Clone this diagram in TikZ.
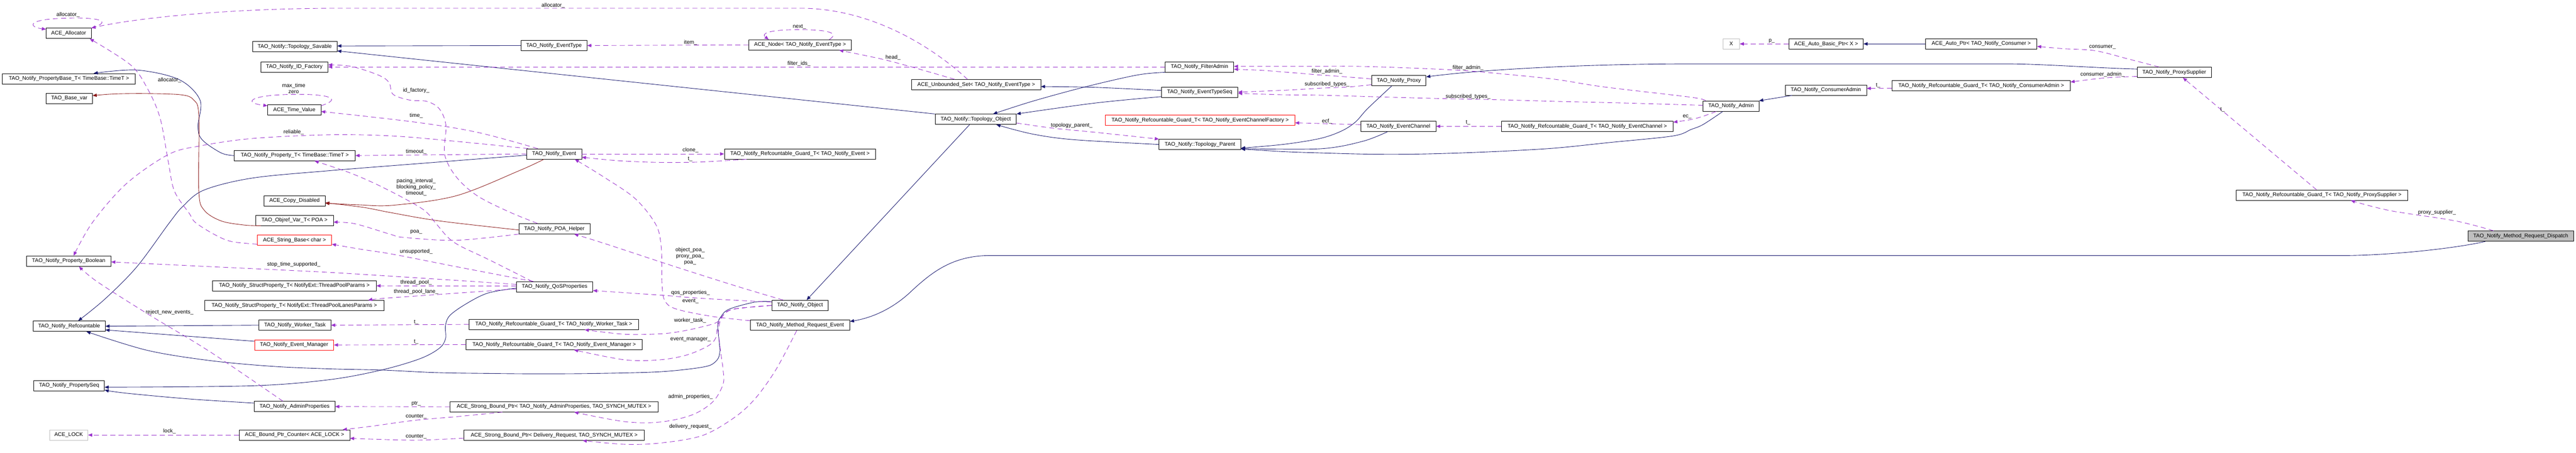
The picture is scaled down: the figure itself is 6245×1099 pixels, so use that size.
\documentclass[tikz,border=0pt]{standalone}
\usepackage{fontspec}
\setmainfont{Liberation Sans}
\usetikzlibrary{arrows.meta}
\definecolor{cinh}{RGB}{25,25,112}
\definecolor{cprv}{RGB}{139,26,26}
\definecolor{cuse}{RGB}{154,50,205}
\definecolor{cgrey}{RGB}{191,191,191}
\begin{document}
\begin{tikzpicture}[x=1pt,y=-1pt,
  every node/.style={font=\fontsize{13}{15}\selectfont},
  cls/.style={draw=black, line width=1pt, minimum height=25pt, inner sep=0pt, align=center},
  trunc/.style={cls, draw=red},
  ext/.style={cls, draw=cgrey},
  cur/.style={cls, fill=cgrey},
  lbl/.style={inner sep=0pt, align=center},
  pub/.style={draw=cinh, line width=1.1pt, -{Triangle[length=10pt,width=8pt]}},
  prv/.style={draw=cprv, line width=1.1pt, -{Triangle[length=10pt,width=8pt]}},
  usedge/.style={draw=cuse, line width=1.1pt, dash pattern=on 12pt off 8pt, -{Triangle[length=10pt,width=8pt]}},
  sm/.style={smooth, tension=0.55}
]
\fill[white] (0,0) rectangle (6245,1099);
\useasboundingbox (0,0) rectangle (6245,1099);

% ---------------- nodes ----------------
\node[cls,minimum width=109pt] (alloc) at (166.5,81) {ACE\_Allocator};
\node[cls,minimum width=205pt] (savable) at (714.5,113.5) {TAO\_Notify::Topology\_Savable};
\node[cls,minimum width=163pt] (idfac) at (713.5,162.5) {TAO\_Notify\_ID\_Factory};
\node[cls,minimum width=322pt] (propbase) at (167,191) {TAO\_Notify\_PropertyBase\_T< TimeBase::TimeT >};
\node[cls,minimum width=112pt] (basevar) at (168,238.5) {TAO\_Base\_var};
\node[cls,minimum width=129pt] (timeval) at (713.5,266.5) {ACE\_Time\_Value};
\node[cls,minimum width=293pt] (propT) at (714.5,377.5) {TAO\_Notify\_Property\_T< TimeBase::TimeT >};
\node[cls,minimum width=148pt] (copydis) at (714,487) {ACE\_Copy\_Disabled};
\node[cls,minimum width=188pt] (objref) at (714,534.5) {TAO\_Objref\_Var\_T< POA >};
\node[trunc,minimum width=180pt] (strbase) at (714,582.5) {ACE\_String\_Base< char >};
\node[cls,minimum width=205pt] (propbool) at (166.5,633.5) {TAO\_Notify\_Property\_Boolean};
\node[cls,minimum width=397pt] (sp1) at (713.5,693.5) {TAO\_Notify\_StructProperty\_T< NotifyExt::ThreadPoolParams >};
\node[cls,minimum width=435pt] (sp2) at (713.5,741.5) {TAO\_Notify\_StructProperty\_T< NotifyExt::ThreadPoolLanesParams >};
\node[cls,minimum width=175pt] (refc) at (167.5,791.5) {TAO\_Notify\_Refcountable};
\node[cls,minimum width=174pt] (worker) at (715,789) {TAO\_Notify\_Worker\_Task};
\node[trunc,minimum width=192pt] (evmgr) at (713,837) {TAO\_Notify\_Event\_Manager};
\node[cls,minimum width=171pt] (propseq) at (167.5,935.5) {TAO\_Notify\_PropertySeq};
\node[cls,minimum width=196pt] (adminprops) at (714,986.5) {TAO\_Notify\_AdminProperties};
\node[ext,minimum width=93pt] (acelock) at (166.5,1055.5) {ACE\_LOCK};
\node[cls,minimum width=268pt] (bpc) at (714,1055.5) {ACE\_Bound\_Ptr\_Counter< ACE\_LOCK >};
\node[cls,minimum width=160pt] (evtype) at (1343,110.5) {TAO\_Notify\_EventType};
\node[cls,minimum width=133pt] (event) at (1343.5,373.5) {TAO\_Notify\_Event};
\node[cls,minimum width=172pt] (poahelper) at (1344,555) {TAO\_Notify\_POA\_Helper};
\node[cls,minimum width=185pt] (qos) at (1344.5,696) {TAO\_Notify\_QoSProperties};
\node[cls,minimum width=411pt] (gwt) at (1342.5,787) {TAO\_Notify\_Refcountable\_Guard\_T< TAO\_Notify\_Worker\_Task >};
\node[cls,minimum width=427pt] (gem) at (1343.5,836) {TAO\_Notify\_Refcountable\_Guard\_T< TAO\_Notify\_Event\_Manager >};
\node[cls,minimum width=504pt] (sbpa) at (1343,987) {ACE\_Strong\_Bound\_Ptr< TAO\_Notify\_AdminProperties, TAO\_SYNCH\_MUTEX >};
\node[cls,minimum width=437pt] (sbpd) at (1343.5,1056) {ACE\_Strong\_Bound\_Ptr< Delivery\_Request, TAO\_SYNCH\_MUTEX >};
\node[cls,minimum width=249pt] (acenode) at (1939.5,109) {ACE\_Node< TAO\_Notify\_EventType >};
\node[cls,minimum width=367pt] (gev) at (1939.5,373.5) {TAO\_Notify\_Refcountable\_Guard\_T< TAO\_Notify\_Event >};
\node[cls,minimum width=137pt] (object) at (1939.5,741) {TAO\_Notify\_Object};
\node[cls,minimum width=241pt] (mre) at (1939.5,789) {TAO\_Notify\_Method\_Request\_Event};
\node[cls,minimum width=313pt] (uset) at (2366.5,205.5) {ACE\_Unbounded\_Set< TAO\_Notify\_EventType >};
\node[cls,minimum width=197pt] (topobj) at (2365.5,289.5) {TAO\_Notify::Topology\_Object};
\node[cls,minimum width=166pt] (filteradmin) at (2908,162.5) {TAO\_Notify\_FilterAdmin};
\node[cls,minimum width=185pt] (etseq) at (2908.5,223.5) {TAO\_Notify\_EventTypeSeq};
\node[trunc,minimum width=459pt] (gecf) at (2909.5,291.5) {TAO\_Notify\_Refcountable\_Guard\_T< TAO\_Notify\_EventChannelFactory >};
\node[cls,minimum width=198pt] (topparent) at (2909,350.5) {TAO\_Notify::Topology\_Parent};
\node[cls,minimum width=132pt] (proxy) at (3391,195.5) {TAO\_Notify\_Proxy};
\node[cls,minimum width=182pt] (ec) at (3390,306.5) {TAO\_Notify\_EventChannel};
\node[cls,minimum width=416pt] (gec) at (3848,306.5) {TAO\_Notify\_Refcountable\_Guard\_T< TAO\_Notify\_EventChannel >};
\node[ext,minimum width=40pt] (X) at (4197,106.5) {X};
\node[cls,minimum width=180pt] (autobasic) at (4427,106.5) {ACE\_Auto\_Basic\_Ptr< X >};
\node[cls,minimum width=270pt] (autoptr) at (4803,106.5) {ACE\_Auto\_Ptr< TAO\_Notify\_Consumer >};
\node[cls,minimum width=197pt] (consadmin) at (4426.5,218.5) {TAO\_Notify\_ConsumerAdmin};
\node[cls,minimum width=432pt] (gca) at (4803,208) {TAO\_Notify\_Refcountable\_Guard\_T< TAO\_Notify\_ConsumerAdmin >};
\node[cls,minimum width=135pt] (admin) at (4196.5,257.5) {TAO\_Notify\_Admin};
\node[cls,minimum width=180pt] (proxysup) at (5271,175.5) {TAO\_Notify\_ProxySupplier};
\node[cls,minimum width=416pt] (gps) at (5629,473.5) {TAO\_Notify\_Refcountable\_Guard\_T< TAO\_Notify\_ProxySupplier >};
\node[cur,minimum width=256pt] (dispatch) at (6111,573) {TAO\_Notify\_Method\_Request\_Dispatch};

% ---------------- inheritance (public) ----------------
\draw[pub] plot[sm] coordinates {(propT.west) (536,371) (490,339) (480,307) (485,243) (434,193) (332,170) ([xshift=60pt]propbase.north)};
\draw[pub] plot[sm] coordinates {([yshift=-3pt]event.west) (1040,395) (800,414) (612,432) (495,461) (444,500) (411,540) (332,647) (255,725) ([xshift=22pt]refc.north)};
\draw[pub] plot[sm] coordinates {([yshift=-3pt]qos.west) (1183,711) (1132,736) (1091,765) (1080,790) (1080,822) (1065,845) (1019,870) (928,897) (800,921) (612,936) ([yshift=-4pt]propseq.east)};
\draw[pub] plot[sm] coordinates {([yshift=8.5pt]adminprops.west) (459,968) (306,954) ([yshift=-11pt]propseq.east)};
\draw[pub] (worker.west) -- (refc.east);
\draw[pub] ([yshift=9pt]evmgr.west) -- ([yshift=-9pt]refc.east);
\draw[pub] plot[sm] coordinates {([yshift=9pt]object.west) (1830,733) (1768,750) (1748,768) (1740,790) (1745,854) (1733,879) (1702,891) (1600,902) (1450,906) (1310,907) (1180,906) (1055,904) (928,898) (800,895) (663,889) (510,875) (357,850) ([xshift=42pt]refc.south)};
\draw[pub] ([xshift=-15pt]topobj.south) -- ([xshift=16pt]object.north);
\draw[pub] (topobj.north west) -- ([yshift=-10pt]savable.east);
\draw[pub] (evtype.west) -- ([yshift=2pt]savable.east);
\draw[pub] plot[sm] coordinates {([yshift=4pt]etseq.west) (2655,212) ([yshift=-4.5pt]uset.east)};
\draw[pub] plot[sm] coordinates {([yshift=-11pt]etseq.west) (2655,250) (topobj.north east)};
\draw[pub] plot[sm] coordinates {(filteradmin.south west) (2757,182) (2630,211) (2502,246) ([xshift=42pt]topobj.north)};
\draw[pub] plot[sm] coordinates {(topparent.west) (2604,339) (2502,325) ([xshift=50pt]topobj.south)};
\draw[pub] plot[sm] coordinates {([xshift=-17pt]proxy.south) (3315,264) (3286,296) (3252,318) (3200,336) (3114,350) ([yshift=-9pt]topparent.east)};
\draw[pub] plot[sm] coordinates {([xshift=-26pt]ec.south) (3303,343) (3200,361) ([yshift=-10pt]topparent.east)};
\draw[pub] plot[sm] coordinates {([xshift=-20pt]admin.south) (4129,302) (4100,314) (4055,330) (3900,346) (3774,359) (3660,366) (3544,371) (3430,374) (3315,374) (3200,371) (3114,368) ([yshift=-11pt]topparent.east)};
\draw[pub] ([yshift=8pt]proxysup.west) .. controls (5080,165) and (4950,155) .. (4864,155) -- (4100,155) .. controls (3850,155) and (3600,168) .. ([yshift=9pt]proxy.east);
\draw[pub] ([xshift=-82pt]consadmin.south) -- (admin.north east);
\draw[pub] (autoptr.west) -- (autobasic.east);
\draw[pub] ([xshift=-86pt]dispatch.south) .. controls (5940,605) and (5780,620) .. (5682,620) -- (2400,620) .. controls (2310,620) and (2260,660) .. (2212,704) .. controls (2170,745) and (2120,770) .. ([yshift=9pt]mre.east);

% ---------------- inheritance (private) ----------------
\draw[prv] plot[sm] coordinates {([xshift=13pt]objref.south west) (592,546) (536,536) (495,510) (482,464) (482,280) (469,242) (439,230) (352,227) (276,228) ([yshift=6.5pt]basevar.east)};
\draw[prv] plot[sm] coordinates {([xshift=-25pt]event.south) (1259,414) (1106,475) (953,498) (870,497) ([yshift=-6pt]copydis.east)};
\draw[prv] plot[sm] coordinates {([yshift=-3pt]poahelper.west) (1065,536) (948,516) (880,503) ([yshift=-5pt]copydis.east)};

% ---------------- usage ----------------
\draw[usedge] ([xshift=-21pt]uset.north) .. controls (2300,150) and (2150,25) .. (1950,20) -- (800,20) .. controls (500,22) and (300,50) .. (alloc.north east);
\draw[usedge] (alloc.north east) .. controls (280,50) and (230,42) .. (165,44) .. controls (60,46) and (70,66) .. ([yshift=-3pt]alloc.north west);
\draw[usedge] plot[sm] coordinates {([yshift=-10pt]strbase.west) (561,586) (520,569) (474,540) (459,518) (423,464) (408,393) (388,286) (357,214) (316,157) ([xshift=-4pt]alloc.south east)};
\draw[usedge] plot[sm] coordinates {(poahelper.south west) (1106,583) (979,576) (948,569) (861,543) ([yshift=-4.5pt]objref.east)};
\draw[usedge] ([yshift=-3pt]timeval.north east) .. controls (830,240) and (800,228) .. (714,229) .. controls (600,230) and (590,250) .. ([yshift=-3pt]timeval.north west);
\draw[usedge] plot[sm] coordinates {([xshift=-40pt]event.north) (1157,321) (1004,296) ([yshift=-4pt]timeval.east)};
\draw[usedge] plot[sm] coordinates {([xshift=-63pt]event.north) (1106,343) (953,330) (800,327) (612,336) (485,354) (408,375) (306,446) (224,540) ([xshift=12pt]propbool.north)};
\draw[usedge] (event.west) -- (propT.east);
\draw[usedge] (event.east) -- (gev.west);
\draw[usedge] plot[sm] coordinates {([xshift=-130pt]gev.south) (1700,393) (1600,394) (1500,390) ([yshift=-8pt]event.east)};
\draw[usedge] plot[sm] coordinates {([yshift=11pt]mre.west) (1728,768) (1640,750) (1612,730) (1605,690) (1603,600) (1590,545) (1540,482) (1463,429) ([xshift=50pt]event.south)};
\draw[usedge] plot[sm] coordinates {([xshift=-41pt]poahelper.north) (1234,514) (1157,475) (1106,429) (1078,375) (1081,304) (1065,264) (1035,246) (994,243) (953,229) (943,200) (917,182) (851,161) ([yshift=5pt]idfac.east)};
\draw[usedge] (filteradmin.west) -- (idfac.east);
\draw[usedge] plot[sm] coordinates {([xshift=-54pt]qos.north) (1183,629) (1116,597) (1086,576) (1055,540) (1024,507) (933,457) (850,420) ([xshift=48pt]propT.south)};
\draw[usedge] plot[sm] coordinates {([xshift=-51pt]qos.north) (1106,647) (953,617) (870,604) ([yshift=-10pt]strbase.east)};
\draw[usedge] plot[sm] coordinates {([yshift=6pt]qos.west) (1055,677) (800,661) (510,647) ([yshift=-2pt]propbool.east)};
\draw[usedge] ([yshift=2pt]qos.west) -- (sp1.east);
\draw[usedge] plot[sm] coordinates {([yshift=-5pt]qos.west) (1055,715) (928,724) ([xshift=179pt]sp2.north)};
\draw[usedge] plot[sm] coordinates {([xshift=-28pt]adminprops.north) (510,854) (357,761) (235,683) ([xshift=25pt]propbool.south)};
\draw[usedge] (gwt.west) -- (worker.east);
\draw[usedge] (gem.west) -- (evmgr.east);
\draw[usedge] (sbpa.west) -- (adminprops.east);
\draw[usedge] plot[sm] coordinates {([xshift=-125pt]sbpa.south) (1106,1011) (1004,1020) (902,1034) ([xshift=117pt]bpc.north)};
\draw[usedge] plot[sm] coordinates {([yshift=-7pt]sbpd.west) (1004,1068) ([yshift=-8pt]bpc.east)};
\draw[usedge] (bpc.west) -- (acelock.east);
\draw[usedge] plot[sm] coordinates {([xshift=-41pt]object.north) (1804,700) (1702,668) (1615,640) (1463,590) ([xshift=48pt]poahelper.south)};
\draw[usedge] plot[sm] coordinates {([yshift=8pt]object.west) (1702,724) (1600,716) ([yshift=-9pt]qos.east)};
\draw[usedge] plot[sm] coordinates {(object.west) (1779,750) (1753,765) (1738,782) (1702,793) (1651,804) (1600,810) (1514,811) ([xshift=75pt]gwt.south)};
\draw[usedge] plot[sm] coordinates {(object.west) (1779,750) (1753,765) (1740,790) (1735,820) (1717,839) (1666,861) (1600,873) (1514,873) ([xshift=48pt]gem.south)};
\draw[usedge] plot[sm] coordinates {(object.west) (1779,750) (1753,765) (1742,800) (1748,860) (1753,897) (1753,932) (1728,975) (1677,1007) (1600,1024) (1514,1023) ([xshift=49pt]sbpa.south)};
\draw[usedge] plot[sm] coordinates {([xshift=-8pt]mre.south) (1881,897) (1830,968) (1779,1014) (1702,1057) (1600,1075) (1514,1078) ([xshift=69pt]sbpd.south)};
\draw[usedge] (acenode.west) -- (evtype.east);
\draw[usedge] ([xshift=71pt]acenode.north) .. controls (2035,80) and (2010,72) .. (1937,72) .. controls (1860,72) and (1845,82) .. ([xshift=-76pt]acenode.north);
\draw[usedge] plot[sm] coordinates {([xshift=-52pt]uset.north) (2212,163) (2136,143) ([xshift=95pt]acenode.south)};
\draw[usedge] plot[sm] coordinates {([yshift=-9pt]topobj.east) (2553,311) (2655,321) (topparent.north west)};
\draw[usedge] plot[sm] coordinates {([yshift=4pt]proxy.west) (3257,186) (3200,182) (3165,179) (3063,171) ([yshift=-5.5pt]filteradmin.east)};
\draw[usedge] plot[sm] coordinates {([xshift=-62pt]admin.north) (4100,236) (3889,211) (3774,193) (3660,181) (3544,171) (3420,165) (3292,161) (3200,161) (3100,161) ([yshift=1.5pt]filteradmin.east)};
\draw[usedge] plot[sm] coordinates {([yshift=-10pt]proxy.west) (3269,211) (3200,214) (3114,219) (etseq.east)};
\draw[usedge] plot[sm] coordinates {([yshift=2pt]admin.west) (3940,250) (3774,246) (3630,242) (3487,239) (3340,235) (3200,231) (3114,230) ([yshift=-3pt]etseq.east)};
\draw[usedge] ([yshift=4pt]ec.west) -- ([yshift=-6.5pt]gecf.east);
\draw[usedge] (gec.west) -- (ec.east);
\draw[usedge] plot[sm] coordinates {([xshift=-36pt]admin.south) (4129,282) (4100,290) ([yshift=10pt]gec.east)};
\draw[usedge] ([yshift=-6pt]gca.west) -- ([yshift=4pt]consadmin.east);
\draw[usedge] (autobasic.west) -- (X.east);
\draw[usedge] plot[sm] coordinates {([xshift=-37pt]proxysup.north) (5159,143) (5079,123) (5000,118) ([yshift=-6pt]autoptr.east)};
\draw[usedge] plot[sm] coordinates {([yshift=-10pt]proxysup.west) (5103,189) ([yshift=9pt]gca.east)};
\draw[usedge] ([xshift=-13pt]gps.north) -- ([xshift=21pt]proxysup.south);
\draw[usedge] plot[sm] coordinates {([xshift=-66pt]dispatch.north) (5953,536) (5794,511) ([xshift=70pt]gps.south)};

% ---------------- labels ----------------
\node[lbl] (l1) at (1341,13) {allocator\_};
\node[lbl] (l2) at (165,36) {allocator\_};
\node[lbl] (l3) at (411,195) {allocator\_};
\node[lbl] (l4) at (712,214.5) {max\_time\\zero};
\node[lbl] (l5) at (1009,281) {time\_};
\node[lbl] (l6) at (712,321) {reliable\_};
\node[lbl] (l7) at (1009,368) {timeout\_};
\node[lbl] (l8) at (1009,219) {id\_factory\_};
\node[lbl] (l9) at (1937,154) {filter\_ids\_};
\node[lbl] (l10) at (1009,454.5) {pacing\_interval\_\\blocking\_policy\_\\timeout\_};
\node[lbl] (l11) at (1009,563) {poa\_};
\node[lbl] (l12) at (1009,611) {unsupported\_};
\node[lbl] (l13) at (712,642) {stop\_time\_supported\_};
\node[lbl] (l14) at (1009,686) {thread\_pool\_};
\node[lbl] (l15) at (1009,708) {thread\_pool\_lane\_};
\node[lbl] (l16) at (411,758) {reject\_new\_events\_};
\node[lbl] (l17) at (1009,782) {t\_};
\node[lbl] (l18) at (1009,830) {t\_};
\node[lbl] (l19) at (1009,979) {ptr\_};
\node[lbl] (l20) at (1009,1011) {counter\_};
\node[lbl] (l21) at (1009,1059) {counter\_};
\node[lbl] (l22) at (411,1046) {lock\_};
\node[lbl] (l23) at (1673,622) {object\_poa\_\\proxy\_poa\_\\poa\_};
\node[lbl] (l24) at (1674,711) {qos\_properties\_};
\node[lbl] (l25) at (1674,731) {event\_};
\node[lbl] (l26) at (1673,778) {worker\_task\_};
\node[lbl] (l27) at (1674,823) {event\_manager\_};
\node[lbl] (l28) at (1674,963) {admin\_properties\_};
\node[lbl] (l29) at (1674,1035) {delivery\_request\_};
\node[lbl] (l30) at (1674,365) {clone\_};
\node[lbl] (l31) at (1673,386) {t\_};
\node[lbl] (l32) at (1674,103) {item\_};
\node[lbl] (l33) at (1938,65) {next\_};
\node[lbl] (l34) at (2165,139) {head\_};
\node[lbl] (l35) at (2598,304) {topology\_parent\_};
\node[lbl] (l36) at (3217,173) {filter\_admin\_};
\node[lbl] (l37) at (3217,204) {subscribed\_types\_};
\node[lbl] (l38) at (3559,165) {filter\_admin\_};
\node[lbl] (l39) at (3559,234) {subscribed\_types\_};
\node[lbl] (l40) at (3217,294) {ecf\_};
\node[lbl] (l41) at (3559,298) {t\_};
\node[lbl] (l42) at (4090,283) {ec\_};
\node[lbl] (l43) at (4295,100) {p\_};
\node[lbl] (l44) at (4553,207) {t\_};
\node[lbl] (l45) at (5097,115) {consumer\_};
\node[lbl] (l46) at (5097,181) {consumer\_admin\_};
\node[lbl] (l47) at (5388,266) {t\_};
\node[lbl] (l48) at (5908,516) {proxy\_supplier\_};
\end{tikzpicture}
\end{document}
